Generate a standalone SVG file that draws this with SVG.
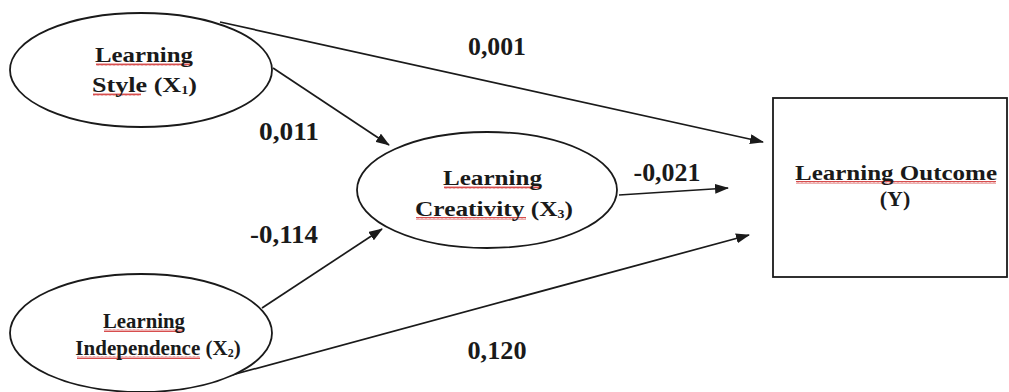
<svg xmlns="http://www.w3.org/2000/svg" width="1009" height="392" viewBox="0 0 1009 392">
  <style>
    .shape { fill: #fff; stroke: #1a1a1a; stroke-width: 1.8; }
    .lbl { font-family: "Liberation Serif", "Times New Roman", serif; font-weight: bold; font-size: 22px; fill: #1a1a1a; text-anchor: middle; }
    .num { font-family: "Liberation Serif", "Times New Roman", serif; font-weight: bold; font-size: 25px; fill: #1a1a1a; text-anchor: middle; }
    .sub { font-size: 12px; }
    .edge { fill: none; stroke: #1a1a1a; stroke-width: 1.7; marker-end: url(#head); }
    .squig { fill: url(#wave); }
  </style>
  <defs>
    <marker id="head" markerUnits="userSpaceOnUse" markerWidth="14" markerHeight="10" refX="13" refY="5" orient="auto">
      <path d="M0,0 L14,5 L0,10 Z" fill="#1a1a1a"/>
    </marker>
    <!-- red wavy underline used by the spell-check marks -->
    <pattern id="wave" patternUnits="userSpaceOnUse" width="4" height="3">
      <path d="M0,2.5 L1,0.5 L2,2.5 L3,0.5 L4,2.5" fill="none" stroke="#d23a3a" stroke-width="0.9"/>
    </pattern>
  </defs>

  <rect width="1009" height="392" fill="#fff"/>

  <g id="connectors">
    <line class="edge" x1="220" y1="22" x2="763" y2="142"/>
    <line class="edge" x1="273" y1="68" x2="389" y2="145"/>
    <line class="edge" x1="262" y1="308" x2="382" y2="229"/>
    <line class="edge" x1="619" y1="195" x2="728" y2="188"/>
    <line class="edge" x1="195" y1="385" x2="749" y2="235"/>
    <text class="num" x="497" y="55" textLength="58" lengthAdjust="spacingAndGlyphs">0,001</text>
    <text class="num" x="289" y="140" textLength="60" lengthAdjust="spacingAndGlyphs">0,011</text>
    <text class="num" x="667" y="181" textLength="67" lengthAdjust="spacingAndGlyphs">-0,021</text>
    <text class="num" x="284" y="243" textLength="68" lengthAdjust="spacingAndGlyphs">-0,114</text>
    <text class="num" x="497" y="359" textLength="59" lengthAdjust="spacingAndGlyphs">0,120</text>
  </g>

  <g id="learning-style">
    <ellipse class="shape" cx="141" cy="70" rx="131" ry="57"/>
    <rect class="squig" x="96" y="63" width="96" height="3"/>
    <rect class="squig" x="93" y="93" width="48" height="3"/>
    <text class="lbl" x="144" y="62" textLength="98" lengthAdjust="spacingAndGlyphs">Learning</text>
    <text class="lbl" x="144.5" y="92" textLength="105" lengthAdjust="spacingAndGlyphs">Style (X<tspan class="sub" dy="2">1</tspan><tspan dy="-2">)</tspan></text>
  </g>

  <g id="learning-creativity">
    <ellipse class="shape" cx="487" cy="190" rx="130" ry="58"/>
    <rect class="squig" x="444" y="186" width="97" height="3"/>
    <rect class="squig" x="416" y="217" width="110" height="3"/>
    <text class="lbl" x="492.5" y="185" textLength="99" lengthAdjust="spacingAndGlyphs">Learning</text>
    <text class="lbl" x="494" y="216" textLength="158" lengthAdjust="spacingAndGlyphs">Creativity (X<tspan class="sub" dy="2">3</tspan><tspan dy="-2">)</tspan></text>
  </g>

  <g id="learning-independence">
    <ellipse class="shape" cx="141" cy="333" rx="131" ry="59"/>
    <rect class="squig" x="104" y="329" width="80" height="3"/>
    <rect class="squig" x="77" y="356" width="123" height="3"/>
    <text class="lbl" x="144" y="328" textLength="82" lengthAdjust="spacingAndGlyphs">Learning</text>
    <text class="lbl" x="158" y="355" style="font-size:21px">Independence (X<tspan class="sub" dy="2">2</tspan><tspan dy="-2">)</tspan></text>
  </g>

  <g id="learning-outcome">
    <rect class="shape" x="773" y="98" width="234" height="179"/>
    <rect class="squig" x="796" y="181" width="200" height="3"/>
    <text class="lbl" x="896" y="180" textLength="202" lengthAdjust="spacingAndGlyphs">Learning Outcome</text>
    <text class="lbl" x="895" y="206">(Y)</text>
  </g>
</svg>
